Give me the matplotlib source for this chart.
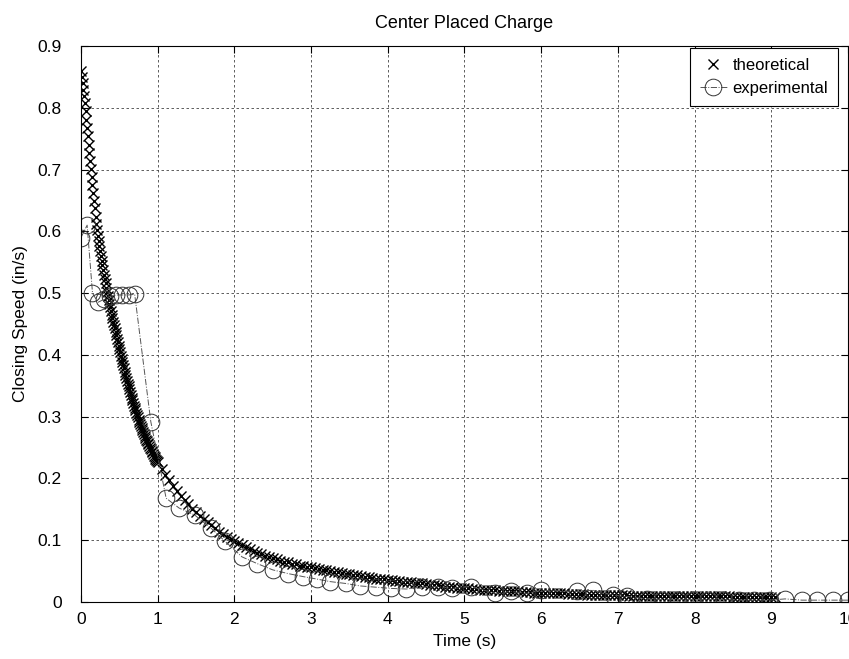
import numpy as np
import matplotlib
matplotlib.use("Agg")
import matplotlib.pyplot as plt

plt.rcParams['font.family'] = ['Liberation Sans', 'DejaVu Sans']

# theoretical closing speed: every 0.01 s for t = 0 .. 0.99
theory_v_early = [
    .860, .850, .840, .829, .819, .808, .795, .781, .768, .754,
    .740, .727, .714, .701, .688, .675, .662, .649, .637, .624,
    .612, .602, .593, .584, .576, .568, .560, .552, .545, .537,
    .530, .523, .516, .509, .502, .495, .489, .483, .477, .471,
    .465, .459, .454, .448, .443, .437, .432, .426, .421, .415,
    .410, .405, .399, .394, .388, .383, .378, .373, .368, .363,
    .358, .353, .349, .344, .340, .335, .331, .327, .322, .318,
    .314, .310, .306, .303, .299, .295, .292, .288, .285, .281,
    .278, .275, .272, .269, .266, .263, .260, .257, .255, .252,
    .249, .247, .244, .242, .239, .237, .235, .232, .230, .228,
]
# then every 0.05 s for t = 1.00 .. 9.05
theory_v_late = [
    .226, .216, .206, .197, .188, .180, .172, .165, .158, .151,
    .145, .139, .134, .129, .124, .119, .114, .110, .106, .102,
    .098, .095, .092, .089, .086, .083, .080, .078, .075, .073,
    .071, .069, .067, .065, .064, .062, .061, .059, .058, .057,
    .056, .055, .053, .052, .051, .050, .049, .048, .047, .046,
    .045, .044, .043, .042, .041, .040, .039, .038, .038, .037,
    .036, .035, .034, .034, .033, .032, .032, .031, .030, .030,
    .029, .028, .027, .027, .026, .025, .024, .024, .023, .023,
    .022, .022, .021, .021, .020, .020, .019, .019, .019, .018,
    .018, .018, .017, .017, .017, .016, .016, .016, .015, .015,
    .015, .015, .014, .014, .014, .014, .014, .013, .013, .013,
    .013, .013, .012, .012, .012, .012, .012, .011, .011, .011,
    .011, .011, .011, .010, .010, .010, .010, .010, .010, .010,
    .010, .009, .009, .009, .009, .009, .009, .009, .009, .009,
    .009, .009, .009, .009, .009, .009, .009, .009, .009, .009,
    .008, .008, .008, .008, .008, .008, .008, .008, .008, .008,
    .008, .008,
]
theory_t = np.concatenate([np.arange(len(theory_v_early)) * 0.01,
                           1.0 + np.arange(len(theory_v_late)) * 0.05])
theory_v = theory_v_early + theory_v_late

# measured closing speed
exp_t = [0.00, 0.08, 0.15, 0.22, 0.30, 0.38, 0.46, 0.54, 0.62, 0.70,
         0.91, 1.11, 1.28, 1.48, 1.70, 1.88, 2.10, 2.30, 2.50, 2.70,
         2.90, 3.08, 3.25, 3.45, 3.64, 3.84, 4.04, 4.24, 4.44, 4.65,
         4.84, 5.08, 5.40, 5.61, 5.81, 6.00, 6.47, 6.67, 6.93, 7.12,
         7.38, 7.58, 7.78, 7.98, 8.18, 8.38, 8.58, 8.78, 8.98, 9.18,
         9.40, 9.60, 9.80, 10.00]
exp_v = [0.590, 0.610, 0.500, 0.485, 0.490, 0.495, 0.497, 0.497, 0.497, 0.498,
         0.292, 0.168, 0.152, 0.141, 0.119, 0.098, 0.073, 0.062, 0.052, 0.046,
         0.041, 0.037, 0.033, 0.030, 0.026, 0.024, 0.022, 0.021, 0.024, 0.025,
         0.022, 0.025, 0.014, 0.017, 0.014, 0.019, 0.017, 0.019, 0.011, 0.009,
         0.005, 0.004, 0.004, 0.004, 0.004, 0.004, 0.003, 0.003, 0.003, 0.005,
         0.003, 0.003, 0.003, 0.003]

xticks = list(range(0, 11))
yticks = [0, 0.1, 0.2, 0.3, 0.4, 0.5, 0.6, 0.7, 0.8, 0.9]
ytick_labels = ['0', '0.1', '0.2', '0.3', '0.4', '0.5', '0.6', '0.7', '0.8', '0.9']

fig = plt.figure(figsize=(8.49, 6.59), dpi=100)
ax = fig.add_axes([0.0954, 0.0865, 0.9034, 0.8437])

ax.plot(theory_t, theory_v, linestyle='none', marker='x', markersize=7,
        markeredgewidth=1.0, color='black', label='theoretical')
ax.plot(exp_t, exp_v, linestyle='-.', linewidth=0.7, color='#555555',
        marker='o', markersize=12, markerfacecolor='none',
        markeredgecolor='#333333', markeredgewidth=0.7, label='experimental')

ax.set_xlim(0, 10)
ax.set_ylim(0, 0.9)
ax.set_xticks(xticks)
ax.set_yticks(yticks)
ax.set_yticklabels(ytick_labels)
ax.tick_params(direction='in', top=True, right=True, labelsize=12.5, length=5)
ax.tick_params(axis='y', pad=14)
ax.tick_params(axis='x', pad=7)
ax.grid(True, linestyle=(0, (3, 3)), color='#444444', linewidth=0.6)
for s in ax.spines.values():
    s.set_linewidth(0.8)

ax.set_title('Center Placed Charge', fontsize=13, pad=13)
ax.set_xlabel('Time (s)', fontsize=12.5, labelpad=5)
ax.set_ylabel('Closing Speed (in/s)', fontsize=12.5, labelpad=7)

leg = ax.legend(loc='upper right', bbox_to_anchor=(0.987, 0.997),
                fontsize=12, numpoints=1, handlelength=1.6,
                fancybox=False, framealpha=1, edgecolor='black',
                borderaxespad=0, borderpad=0.6, labelspacing=0.5,
                handletextpad=0.35)
leg.get_frame().set_linewidth(0.8)

fig.savefig('out.png', dpi=100)
